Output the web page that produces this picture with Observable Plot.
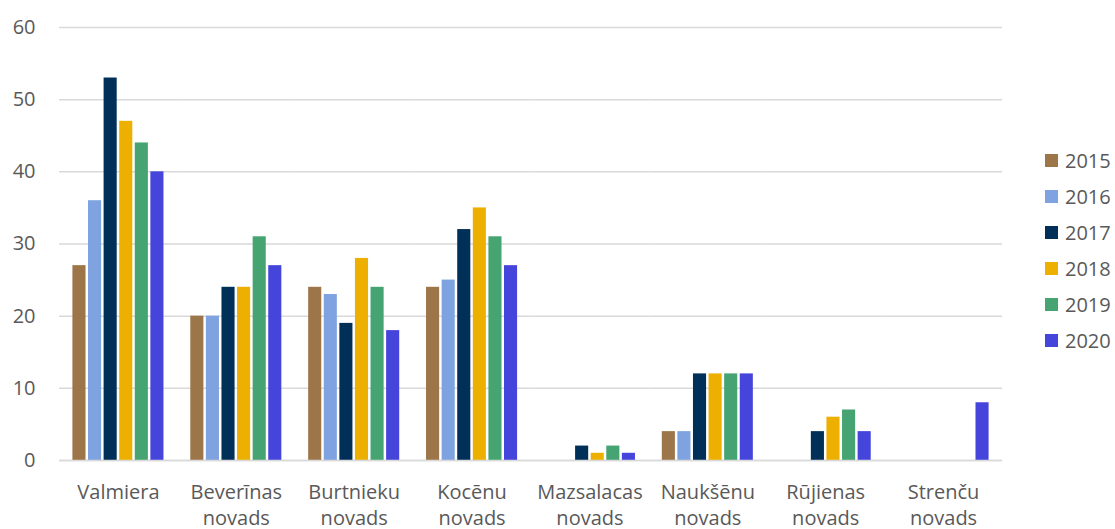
<!DOCTYPE html>
<html>
<head>
<meta charset="utf-8">
<script src="https://cdn.jsdelivr.net/npm/d3@7"></script>
<script src="https://cdn.jsdelivr.net/npm/@observablehq/plot@0.6"></script>
<style>
  html, body { margin: 0; padding: 0; background: #fff; }
  #wrap { position: relative; width: 1115px; height: 529px; font-family: "Open Sans", sans-serif; }
  #legend { position: absolute; left: 1045px; top: 142px; }
  .item { display: flex; align-items: center; height: 36px; font-size: 20px; color: #595959; }
  .sw { width: 13px; height: 13px; margin-right: 7px; }
</style>
</head>
<body>
<div id="wrap"><div id="chart"></div><div id="legend"></div></div>
<script>
const categories = ["Valmiera", "Beverīnas\nnovads", "Burtnieku\nnovads", "Kocēnu\nnovads", "Mazsalacas\nnovads", "Naukšēnu\nnovads", "Rūjienas\nnovads", "Strenču\nnovads"];
const years = ["2015", "2016", "2017", "2018", "2019", "2020"];
const colors = ["#9C7548", "#7FA3E0", "#002F57", "#EEB000", "#46A372", "#4545DC"];
const v2015 = [27, 20, 24, 24, 0, 4, 0, 0];
const v2016 = [36, 20, 23, 25, 0, 4, 0, 0];
const v2017 = [53, 24, 19, 32, 2, 12, 4, 0];
const v2018 = [47, 24, 28, 35, 1, 12, 6, 0];
const v2019 = [44, 31, 24, 31, 2, 12, 7, 0];
const v2020 = [40, 27, 18, 27, 1, 12, 4, 8];
const yTicks = [0, 10, 20, 30, 40, 50, 60];

const series = [v2015, v2016, v2017, v2018, v2019, v2020];
const data = [];
categories.forEach((c, i) => years.forEach((y, j) => data.push({cat: c, year: y, value: series[j][i]})));

const chart = Plot.plot({
  width: 1010,
  height: 529,
  marginLeft: 59,
  marginRight: 8,
  marginTop: 27,
  marginBottom: 69,
  style: {fontFamily: "Open Sans, sans-serif", fontSize: "20px", color: "#595959", background: "#fff"},
  fx: {domain: categories, padding: 0, round: false, label: null},
  x: {domain: years, paddingInner: 0.16, paddingOuter: 0.86, round: false, axis: null},
  y: {domain: [0, 60], label: null},
  color: {domain: years, range: colors},
  marks: [
    Plot.gridY(yTicks, {stroke: "#d9d9d9", strokeOpacity: 1, strokeWidth: 1.5}),
    Plot.axisY(yTicks, {tickSize: 0, tickPadding: 24, fontSize: 20, fill: "#595959", label: null}),
    Plot.axisFx({anchor: "bottom", tickSize: 0, tickPadding: 20, fontSize: 20, lineHeight: 1.3, fill: "#595959", label: null}),
    Plot.barY(data, {fx: "cat", x: "year", y: "value", fill: "year"}),
    Plot.ruleY([0], {stroke: "#d9d9d9", strokeWidth: 1.5})
  ]
});
document.getElementById("chart").appendChild(chart);

const legend = document.getElementById("legend");
years.forEach((y, j) => {
  const d = document.createElement("div");
  d.className = "item";
  d.innerHTML = `<span class="sw" style="background:${colors[j]}"></span><span>${y}</span>`;
  legend.appendChild(d);
});
</script>
</body>
</html>
